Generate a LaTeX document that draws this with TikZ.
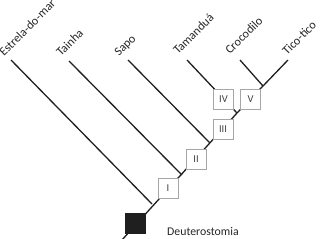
\documentclass[tikz,border=0pt]{standalone}
\usepackage{fontspec}
\setmainfont{Carlito}
\begin{document}
\begin{tikzpicture}[x=1pt,y=-1pt,
  branch/.style={draw=black!88,line width=1.3pt},
  charbox/.style={draw=black!35,fill=white,line width=0.8pt,minimum size=20pt,inner sep=0pt,font=\fontsize{10.5}{12}\selectfont,text=black!75},
  rootbox/.style={draw=black!88,fill=black!88,minimum size=20pt,inner sep=0pt},
  taxon/.style={rotate=45,anchor=base west,inner sep=0pt,font=\fontsize{12.2}{14}\selectfont,text=black!85}]
\useasboundingbox (0,0) rectangle (325,239);
% tips
\coordinate (tE) at (11,60);
\coordinate (tT) at (69,61);
\coordinate (tS) at (128,60);
\coordinate (tA) at (187,60);
\coordinate (tC) at (240,60);
\coordinate (tK) at (288,60);
% junctions
\coordinate (bot) at (121,241);
\coordinate (jE) at (152,204);
\coordinate (jT) at (182,175);
\coordinate (jS) at (210,143);
\coordinate (jAV) at (237,113);
\coordinate (jCK) at (263,86);
% lines
\draw[branch] (bot) -- (jAV);
\draw[branch] (tE) -- (jE);
\draw[branch] (tT) -- (jT);
\draw[branch] (tS) -- (jS);
\draw[branch] (tA) -- (jAV);
\draw[branch] (jCK) -- (jAV);
\draw[branch] (tC) -- (jCK);
\draw[branch] (tK) -- (jCK);
% boxes
\node[rootbox] (root) at (135,223) {};
\node[charbox] (b1) at (168,188) {I};
\node[charbox] (b2) at (196,159) {II};
\node[charbox] (b3) at (223,129.5) {III};
\node[charbox] (b4) at (223.5,99.5) {IV};
\node[charbox] (b5) at (250.5,99.5) {V};
% labels
\node[taxon] (lE) at (4,57) {Estrela-do-mar};
\node[taxon] (lT) at (61,57) {Tainha};
\node[taxon] (lS) at (119,57) {Sapo};
\node[taxon] (lA) at (178,55) {Tamanduá};
\node[taxon] (lC) at (230,55) {Crocodilo};
\node[taxon] (lK) at (287,56) {Tico-tico};
\node[anchor=base west,inner sep=0pt,font=\fontsize{11.8}{14}\selectfont,text=black!85] (deut) at (167,235) {Deuterostomia};
\end{tikzpicture}
\end{document}
